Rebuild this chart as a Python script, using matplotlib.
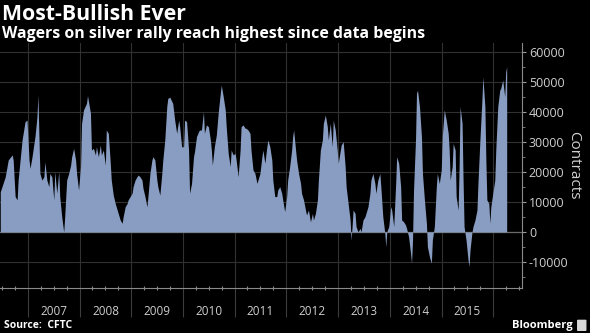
import matplotlib
matplotlib.use("Agg")
import matplotlib.pyplot as plt
import matplotlib.dates as mdates
import matplotlib.transforms as mtransforms
from matplotlib.ticker import MultipleLocator, NullFormatter, FuncFormatter
from matplotlib.patches import FancyBboxPatch
import numpy as np
import pandas as pd

plt.rcParams['font.family'] = ['Open Sans', 'DejaVu Sans']

# CFTC weekly reports, week number counted from the first report shown
first_report = "2006-06-20"
weeks = [0, 5, 8, 12, 13, 15, 17, 18, 22, 25, 27, 29, 30, 32, 35, 37, 38, 39, 40, 42,
         44, 45, 47, 49, 50, 52, 54, 55, 57, 59, 60, 62, 64, 65, 67, 69, 71, 72, 74, 76,
         77, 79, 81, 82, 84, 87, 88, 91, 92, 94, 96, 97, 99, 101, 102, 104, 106, 107, 109, 111,
         112, 114, 116, 118, 119, 121, 123, 124, 126, 128, 129, 133, 134, 136, 139, 141, 143, 144, 146, 148,
         149, 151, 153, 154, 156, 158, 159, 161, 163, 164, 166, 168, 169, 171, 174, 176, 178, 180, 181, 183,
         185, 186, 188, 190, 191, 193, 195, 196, 198, 200, 201, 203, 205, 206, 208, 210, 212, 213, 214, 216,
         218, 220, 222, 223, 225, 227, 228, 230, 232, 233, 235, 237, 238, 240, 242, 243, 245, 247, 248, 250,
         252, 253, 255, 257, 259, 262, 264, 265, 267, 269, 270, 272, 274, 275, 277, 279, 280, 282, 284, 285,
         287, 289, 290, 292, 294, 295, 296, 298, 299, 301, 303, 304, 306, 308, 309, 311, 313, 315, 316, 318,
         320, 321, 323, 325, 326, 328, 330, 331, 333, 335, 336, 338, 340, 341, 344, 346, 348, 349, 351, 353,
         354, 355, 356, 358, 359, 361, 363, 364, 366, 368, 369, 371, 373, 374, 376, 378, 379, 381, 383, 384,
         386, 388, 389, 390, 392, 394, 395, 397, 399, 400, 402, 404, 405, 407, 409, 410, 412, 414, 415, 416,
         417, 419, 420, 421, 423, 425, 426, 428, 430, 431, 433, 435, 436, 438, 440, 441, 443, 445, 446, 448,
         450, 452, 453, 454, 456, 457, 459, 460, 462, 463, 464, 466, 467, 468, 470, 472, 473, 474, 476, 477,
         479, 481, 482, 484, 486, 487, 489, 490, 491, 493, 494, 495, 497, 499, 500, 502, 504, 505, 507, 509,
         510, 511]
net_longs = [13400, 18400, 24000, 25700, 24000, 11800, 10700, 17300, 30700, 36800, 37300, 24000, 21200, 25000, 31800, 38400, 45700, 31800, 19500, 17300,
             18400, 23400, 17300, 15100, 19500, 18400, 10700, 20100, 12900, 20100, 11800, 5100, 0, 5100, 17300, 19500, 22300, 25000, 27900, 24000,
             19500, 14000, 21800, 36200, 40700, 42900, 45500, 39600, 27300, 27900, 25700, 28400, 25100, 29000, 25700, 27300, 22300, 34000, 32900, 22900,
             17300, 12300, 9500, 7300, 6200, 4000, 2900, 5100, 8400, 9500, 10700, 12900, 15100, 17300, 19000, 18400, 17300, 14600, 11800, 8400,
             11800, 19500, 24000, 25100, 24000, 17300, 15100, 12300, 19500, 24000, 30700, 41800, 44500, 45000, 42900, 37300, 32900, 37300, 35100, 28400,
             28400, 37300, 36800, 27300, 12900, 16200, 25100, 26800, 31800, 33400, 34000, 34000, 40100, 32900, 35700, 35100, 30700, 27300, 22300, 28400,
             32300, 40100, 46200, 49000, 45100, 40700, 35100, 26200, 21800, 27300, 25700, 26200, 24000, 18400, 27300, 35100, 35700, 34600, 34600, 34000,
             32900, 27300, 20700, 19500, 16200, 19500, 25100, 27300, 22900, 28400, 30700, 28400, 24000, 17300, 11800, 11800, 14000, 15100, 12900, 10700,
             6800, 11800, 17300, 21800, 27300, 31800, 34000, 27300, 24000, 19500, 16200, 12900, 10700, 7300, 5700, 7300, 3400, 6200, 4000, 6200,
             10700, 17300, 27300, 30700, 36200, 39000, 35100, 30700, 36200, 28400, 37300, 34000, 27300, 22900, 29000, 30100, 21800, 15100, 9500, 4000,
             -2700, 1800, 7300, 6200, 1800, 0, 1200, 0, 4000, 5100, 6200, 8400, 12900, 17300, 19500, 16200, 12900, 17300, 19500, 15100,
             5100, -400, -4900, 0, 1800, 8400, 7300, 1800, 16200, 25100, 22900, 15100, 4000, 3400, 2300, 1200, -1600, -7100, -10400, -2700,
             14000, 30700, 46200, 47300, 41800, 31800, 19500, 10700, 2900, -4900, -8200, -10400, -2700, 1800, 15100, 19500, 16200, 20700, 31800, 40700,
             37300, 32900, 27300, 17300, 21800, 29500, 27300, 11800, 7300, 21800, 41800, 36200, 17300, 1800, -2700, -9300, -11500, -6000, 0, 1800,
             4000, 7300, 16200, 30700, 44000, 51700, 41800, 24000, 10700, 9500, 2900, 8400, 12900, 17300, 27300, 41800, 47300, 47900, 50700, 45100,
             53400, 55100]

years = list(range(2007, 2016))
title = "Most-Bullish Ever"
subtitle = "Wagers on silver rally reach highest since data begins"
source = "Source:  CFTC"
brand = "Bloomberg"

fill_color = "#889dc1"
grid_color = "#313131"
text_color = "#cfcfcf"

dates = pd.Timestamp(first_report) + pd.to_timedelta(np.array(weeks) * 7, unit="D")

fig = plt.figure(figsize=(5.9, 3.33), dpi=100, facecolor="black")
ax = fig.add_axes([0.0, 0.135, 0.8847, 0.7357])
ax.set_facecolor("black")

ax.fill_between(dates, net_longs, 0, color=fill_color, lw=0, zorder=3)
ax.axhline(0, color="#6a6a6a", lw=0.9, zorder=2)

ax.set_xlim(pd.Timestamp("2006-06-18"), pd.Timestamp("2016-07-22"))
ax.set_ylim(-18700, 63000)

# x axis: long ticks at year boundaries, small quarterly ticks, labels mid-year
ax.xaxis.set_major_locator(mdates.YearLocator())
ax.xaxis.set_minor_locator(mdates.MonthLocator(bymonth=[4, 7, 10]))
ax.xaxis.set_major_formatter(NullFormatter())
ax.tick_params(axis="x", which="major", length=21, width=0.8, color="#3c3c3c", direction="out")
ax.tick_params(axis="x", which="minor", length=3, width=0.8, color="#8a8a8a", direction="inout")

# y axis on the right
ax.yaxis.tick_right()
ax.yaxis.set_major_locator(MultipleLocator(10000))
ax.yaxis.set_minor_locator(MultipleLocator(5000))
ax.yaxis.set_major_formatter(FuncFormatter(lambda v, p: "%d" % v))
ax.tick_params(axis="y", which="major", length=3, width=0.8, color="#9a9a9a",
               labelsize=9, labelcolor=text_color, pad=2)
ax.tick_params(axis="y", which="minor", length=2, width=0.6, color="#8a8a8a")
ax.tick_params(axis="y", which="both", left=False, labelleft=False, right=True, labelright=True)

ax.grid(True, which="major", color=grid_color, lw=0.8)
ax.set_axisbelow(True)

for side in ["left", "top"]:
    ax.spines[side].set_visible(False)
for side in ["right", "bottom"]:
    ax.spines[side].set_color("#8a8a8a")
    ax.spines[side].set_linewidth(0.8)

ax.set_ylabel("Contracts", rotation=270, color=text_color, fontsize=11, ha="center", va="center")
ax.yaxis.set_label_position("right")
ax.yaxis.set_label_coords(1.113, 0.5)

trans = mtransforms.blended_transform_factory(ax.transData, fig.transFigure)
for y in years:
    ax.text(pd.Timestamp("%d-07-02" % y), 0.066, str(y), transform=trans,
            ha="center", va="center", color=text_color, fontsize=8.5)

fig.text(0.004, 0.956, title, color="white", fontsize=15.3, fontweight="bold", va="center", ha="left")
fig.text(0.004, 0.898, subtitle, color="white", fontsize=11.4, fontweight="bold", va="center", ha="left")
fig.text(0.006, 0.022, source, color="white", fontsize=7.5, fontweight="bold", va="center", ha="left")
fig.text(0.970, 0.022, brand, color="white", fontsize=8, fontweight="bold", va="center", ha="right")
fig.patches.append(FancyBboxPatch((0.98, 0.008), 0.012, 0.03, boxstyle="round,pad=0.002",
                                  transform=fig.transFigure, facecolor="#d8d8d8", edgecolor="none"))

fig.savefig("out.png", dpi=100, facecolor="black")
